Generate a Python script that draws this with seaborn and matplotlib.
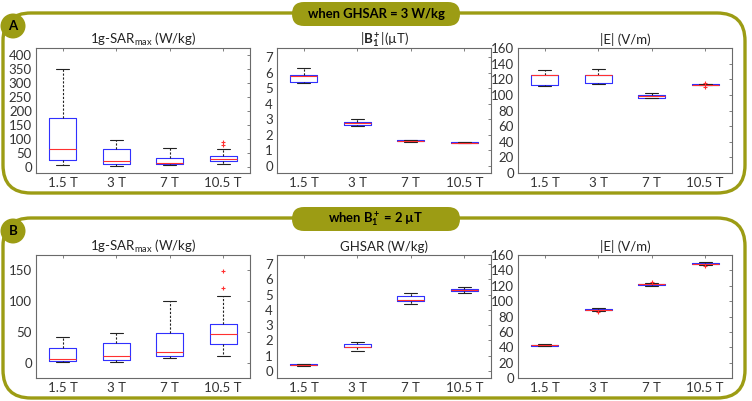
import numpy as np
import pandas as pd
import matplotlib
matplotlib.use('Agg')
import matplotlib.pyplot as plt
import seaborn as sns
from matplotlib.patches import FancyBboxPatch, Circle

fields = ['1.5 T', '3 T', '7 T', '10.5 T']

sar_A = [
    [10, 18, 27, 45, 65, 120, 175, 260, 349],
    [6, 9, 13, 17, 21, 40, 66, 80, 96],
    [8, 9, 11, 13, 16, 25, 35, 50, 69],
    [12, 16, 19, 21, 25, 28, 30, 34, 38, 41, 65, 78, 89],
]
b1_A = [
    [5.34, 5.36, 5.39, 5.6, 5.82, 5.85, 5.87, 6.1, 6.3],
    [2.6, 2.61, 2.63, 2.7, 2.77, 2.79, 2.81, 2.9, 3.03],
    [1.57, 1.58, 1.59, 1.6, 1.62, 1.64, 1.65, 1.66, 1.67],
    [1.49, 1.495, 1.5, 1.5, 1.5, 1.505, 1.51, 1.51, 1.52],
]
e_A = [
    [112, 112.5, 113, 119, 125, 125.5, 126, 129, 132],
    [114.5, 115, 115.5, 120, 125, 125.5, 126, 129, 133],
    [95.5, 96, 96.5, 97.5, 98.5, 99, 99.5, 100.5, 102],
    [109.5, 112.2, 112.4, 112.6, 112.8, 112.9, 113.0, 113.1, 113.2, 113.4, 113.6, 113.8, 115.5],
]

# row B: when B1+ = 2 uT
sar_B = [
    [0.5, 1.5, 3, 5, 6.5, 15, 23.5, 32, 42],
    [0.5, 2, 4.4, 7, 10.4, 20, 31.7, 40, 47.5],
    [7, 9, 11, 14, 18, 30, 48, 70, 100],
    [11.5, 20, 26, 30, 36, 42, 46.4, 52, 58, 62.8, 108, 121.6, 148.5],
]
ghsar_B = [
    [0.35, 0.37, 0.38, 0.4, 0.42, 0.44, 0.45, 0.46, 0.47],
    [1.32, 1.45, 1.54, 1.56, 1.58, 1.7, 1.78, 1.82, 1.87],
    [4.36, 4.5, 4.6, 4.61, 4.62, 4.8, 4.91, 5.0, 5.13],
    [5.14, 5.2, 5.23, 5.28, 5.32, 5.36, 5.4, 5.45, 5.51],
]
e_B = [
    [41, 41.4, 41.8, 42.2, 42.6, 43, 43.3, 43.6, 44],
    [85.4, 87, 88.2, 88.6, 88.9, 89.2, 89.6, 90, 90.5],
    [120, 120.6, 121.2, 121.6, 121.9, 122.2, 122.5, 124, 125.3],
    [145.9, 147.3, 148.2, 148.5, 148.8, 149.1, 149.4, 150, 150.5],
]

OLIVE = '#9c9c14'
GRAY = '#6a6a6a'

sns.set_style('white')
plt.rcParams['font.family'] = ['Lato', 'DejaVu Sans']
plt.rcParams['mathtext.fontset'] = 'custom'
plt.rcParams['mathtext.rm'] = 'Lato'
plt.rcParams['mathtext.it'] = 'Lato:italic'
plt.rcParams['mathtext.bf'] = 'Lato:bold'


def to_long(groups):
    rows = []
    for f, vals in zip(fields, groups):
        for v in vals:
            rows.append((f, v))
    return pd.DataFrame(rows, columns=['field', 'value'])


def draw_box(ax, groups, title, ylim, yticks):
    df = to_long(groups)
    sns.boxplot(data=df, x='field', y='value', order=fields, ax=ax,
                width=0.5, fill=False, linewidth=0.8,
                boxprops=dict(color='#3030ff'),
                medianprops=dict(color='#ff3030'),
                whiskerprops=dict(color='#222222', linestyle=(0, (2, 1.5))),
                capprops=dict(color='#222222'),
                flierprops=dict(marker='+', markeredgecolor='#ff3030',
                                markersize=3, markeredgewidth=0.8))
    ax.set_xlim(-0.5, 3.5)
    ax.set_ylim(*ylim)
    ax.set_yticks(yticks)
    ax.set_xlabel('')
    ax.set_ylabel('')
    ax.set_title(title, fontsize=9.5, pad=3, color='#222222')
    ax.tick_params(direction='in', length=2.5, width=0.6, color=GRAY,
                   top=True, right=True, labelsize=9.5, labelcolor='#333333', pad=3)
    for s in ax.spines.values():
        s.set_color(GRAY)
        s.set_linewidth(0.8)


fig = plt.figure(figsize=(7.52, 4.01), dpi=100)

# background layer for the rounded panels, badges and headers (pixel coords)
bg = fig.add_axes([0, 0, 1, 1], zorder=-1)
bg.set_xlim(0, 752)
bg.set_ylim(401, 0)
bg.axis('off')

for top, bottom, letter, header in [
        (13, 193, 'A', 'when GHSAR = 3 W/kg'),
        (218, 398, 'B', r'when $\mathbf{B_1^+}$ = 2 µT')]:
    bg.add_patch(FancyBboxPatch((3, top), 742, bottom - top,
                                boxstyle='round,pad=0,rounding_size=28',
                                fill=False, ec=OLIVE, lw=2.4))
    bg.add_patch(FancyBboxPatch((292, top - 11), 168, 24,
                                boxstyle='round,pad=0,rounding_size=12',
                                fc=OLIVE, ec='none'))
    bg.text(376, top + 1, header, ha='center', va='center',
            fontsize=9.4, fontweight='bold', color='black')
    bg.add_patch(Circle((13, top + 13), 12.5, fc=OLIVE, ec='none'))
    bg.text(13, top + 13, letter, ha='center', va='center',
            fontsize=9.5, fontweight='bold', color='black')

W = 214 / 752
lefts = [36 / 752, 277 / 752, 518 / 752]

axA = [fig.add_axes([l, 1 - 173 / 401, W, 125 / 401]) for l in lefts]
axB = [fig.add_axes([l, 1 - 378 / 401, W, 123 / 401]) for l in lefts]

draw_box(axA[0], sar_A, r'1g-SAR$_{\mathrm{max}}$ (W/kg)', (-20, 425), np.arange(0, 401, 50))
draw_box(axA[1], b1_A, r'|$\mathbf{B_1^+}$|(µT)', (-0.46, 7.6), np.arange(0, 8, 1))
draw_box(axA[2], e_A, '|E| (V/m)', (0, 160), np.arange(0, 161, 20))

draw_box(axB[0], sar_B, r'1g-SAR$_{\mathrm{max}}$ (W/kg)', (-25, 175), [0, 50, 100, 150])
draw_box(axB[1], ghsar_B, 'GHSAR (W/kg)', (-0.46, 7.6), np.arange(0, 8, 1))
draw_box(axB[2], e_B, '|E| (V/m)', (0, 160), np.arange(0, 161, 20))

fig.savefig('out.png', dpi=100)
